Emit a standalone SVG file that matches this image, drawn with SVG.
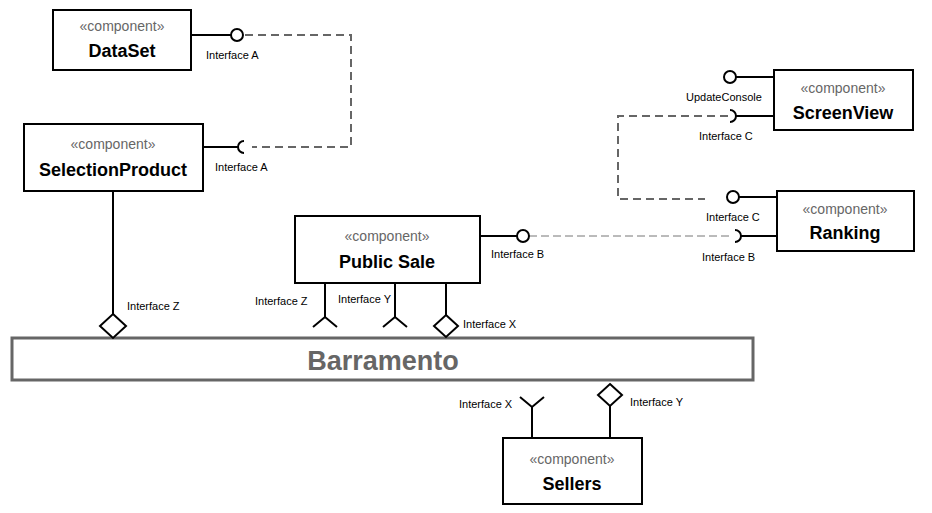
<svg xmlns="http://www.w3.org/2000/svg" width="932" height="513" viewBox="0 0 932 513">
<style>
.box{fill:#fff;stroke:#000;stroke-width:2}
.st{font-family:"Liberation Sans",Arial,sans-serif;font-size:14px;fill:#666;text-anchor:middle}
.nm{font-family:"Liberation Sans",Arial,sans-serif;font-size:18px;font-weight:bold;fill:#000;text-anchor:middle}
.lb{font-family:"Liberation Sans",Arial,sans-serif;font-size:11px;fill:#000}
.ln{fill:none;stroke:#000;stroke-width:2}
.ball{fill:#fff;stroke:#000;stroke-width:2}
.dash{fill:none;stroke:#666;stroke-width:2;stroke-dasharray:8 5}
.dash2{fill:none;stroke:#777;stroke-width:1;stroke-dasharray:8 4}
</style>
<rect width="932" height="513" fill="#fff"/>
<g id="connectors">
<path class="dash" d="M245,35 H351 V147 H252"/>
<path class="dash" d="M728,116 H618 V199 H705"/>
<path class="dash2" d="M529,236 H730"/>
</g>
<g id="barramento">
<rect x="12" y="338" width="741" height="42" fill="#fff" stroke="#666" stroke-width="3"/>
<text x="383" y="370" font-family="Liberation Sans,Arial,sans-serif" font-size="27" font-weight="bold" fill="#666" text-anchor="middle">Barramento</text>
</g>
<g id="dataset">
<rect class="box" x="53" y="10" width="138" height="60"/>
<text class="st" x="122" y="31">«component»</text>
<text class="nm" x="122" y="57">DataSet</text>
<path class="ln" d="M191,35 H231"/>
<circle class="ball" cx="237" cy="35" r="6"/>
<text class="lb" x="206" y="59">Interface A</text>
</g>
<g id="selectionproduct">
<rect class="box" x="24" y="124" width="179" height="67"/>
<text class="st" x="113" y="149">«component»</text>
<text class="nm" x="113" y="176">SelectionProduct</text>
<path class="ln" d="M203,147 H238"/>
<path class="ln" d="M244,141 A6,6 0 0 0 244,153"/>
<text class="lb" x="215" y="171">Interface A</text>
<path class="ln" d="M113,191 V314"/>
<path class="ball" d="M113,314 L126,326 L113,338 L100,326 Z"/>
<text class="lb" x="127" y="310">Interface Z</text>
</g>
<g id="publicsale">
<rect class="box" x="295" y="216" width="185" height="67"/>
<text class="st" x="387" y="241">«component»</text>
<text class="nm" x="387" y="268">Public Sale</text>
<path class="ln" d="M480,236 H517"/>
<circle class="ball" cx="523" cy="236" r="6"/>
<text class="lb" x="491" y="258">Interface B</text>
<path class="ln" d="M325,283 V317 M313,327 L325,317 L337,327"/>
<path class="ln" d="M395,283 V317 M383,327 L395,317 L407,327"/>
<path class="ln" d="M446,283 V315"/>
<path class="ball" d="M446,315 L458,326 L446,337 L434,326 Z"/>
<text class="lb" x="255" y="305">Interface Z</text>
<text class="lb" x="338" y="303">Interface Y</text>
<text class="lb" x="463" y="328">Interface X</text>
</g>
<g id="screenview">
<rect class="box" x="774" y="70" width="139" height="60"/>
<text class="st" x="843" y="93">«component»</text>
<text class="nm" x="843" y="119">ScreenView</text>
<path class="ln" d="M736,77 H774"/>
<circle class="ball" cx="730" cy="77" r="6"/>
<text class="lb" x="686" y="101">UpdateConsole</text>
<path class="ln" d="M730,110 A6,6 0 0 1 730,122"/>
<path class="ln" d="M736,116 H774"/>
<text class="lb" x="699" y="140">Interface C</text>
</g>
<g id="ranking">
<rect class="box" x="777" y="191" width="137" height="60"/>
<text class="st" x="845" y="214">«component»</text>
<text class="nm" x="845" y="239">Ranking</text>
<path class="ln" d="M739,197 H777"/>
<circle class="ball" cx="733" cy="197" r="6"/>
<text class="lb" x="706" y="221">Interface C</text>
<path class="ln" d="M735,230 A6,6 0 0 1 735,242"/>
<path class="ln" d="M741,236 H777"/>
<text class="lb" x="702" y="261">Interface B</text>
</g>
<g id="sellers">
<rect class="box" x="503" y="438" width="139" height="66"/>
<text class="st" x="572" y="464">«component»</text>
<text class="nm" x="572" y="490">Sellers</text>
<path class="ln" d="M532,438 V407 M520,397 L532,407 L544,397"/>
<path class="ln" d="M610,438 V406"/>
<path class="ball" d="M610,384 L622,395 L610,406 L598,395 Z"/>
<text class="lb" x="459" y="408">Interface X</text>
<text class="lb" x="630" y="406">Interface Y</text>
</g>
</svg>
